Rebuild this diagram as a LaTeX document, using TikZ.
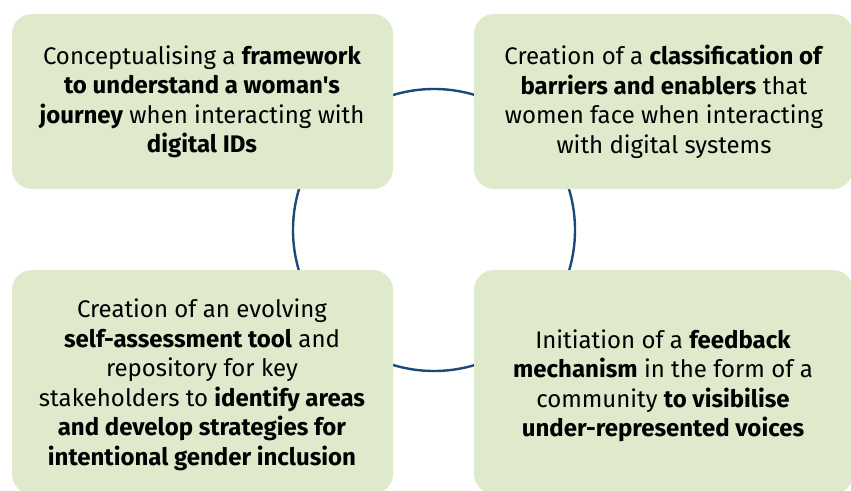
\documentclass[tikz,border=0pt]{standalone}
\usepackage{fontspec}
\setmainfont{Fira Sans}[Ligatures=TeXOff]
\definecolor{boxgreen}{HTML}{DFE9CB}
\definecolor{ringblue}{HTML}{1B4A78}
\begin{document}
\begin{tikzpicture}[x=1pt,y=-1pt,
  panel/.style={fill=boxgreen, draw=none, rounded corners=20pt},
  label/.style={align=center, font=\fontsize{24}{29.5}\selectfont, text=black, inner sep=0pt}]
\useasboundingbox (0,0) rectangle (851,490);
\begin{scope}
\clip (0,0) rectangle (851,490);
\node[draw=ringblue, line width=2.4pt, circle, minimum size=282pt, inner sep=0pt] (ring) at (434,230) {};
\path[panel] (12,14) rectangle (393,189);
\path[panel] (474,14) rectangle (853,189);
\path[panel] (12,270) rectangle (393,494);
\path[panel] (474,270) rectangle (853,494);
\end{scope}
\node[label] (tl) at (202,102) {Conceptualising a \textbf{framework}\\\textbf{to understand a woman's}\\\textbf{journey} when interacting with\\\textbf{digital IDs}};
\node[label] (tr) at (664,102) {Creation of a \textbf{classification of}\\\textbf{barriers and enablers} that\\women face when interacting\\with digital systems};
\node[label] (bl) at (202,385) {Creation of an evolving\\\textbf{self-assessment tool} and\\repository for key\\stakeholders to \textbf{identify areas}\\\textbf{and develop strategies for}\\\textbf{intentional gender inclusion}};
\node[label] (br) at (663,386) {Initiation of a \textbf{feedback}\\\textbf{mechanism} in the form of a\\community \textbf{to visibilise}\\\textbf{under-represented voices}};
\end{tikzpicture}
\end{document}
